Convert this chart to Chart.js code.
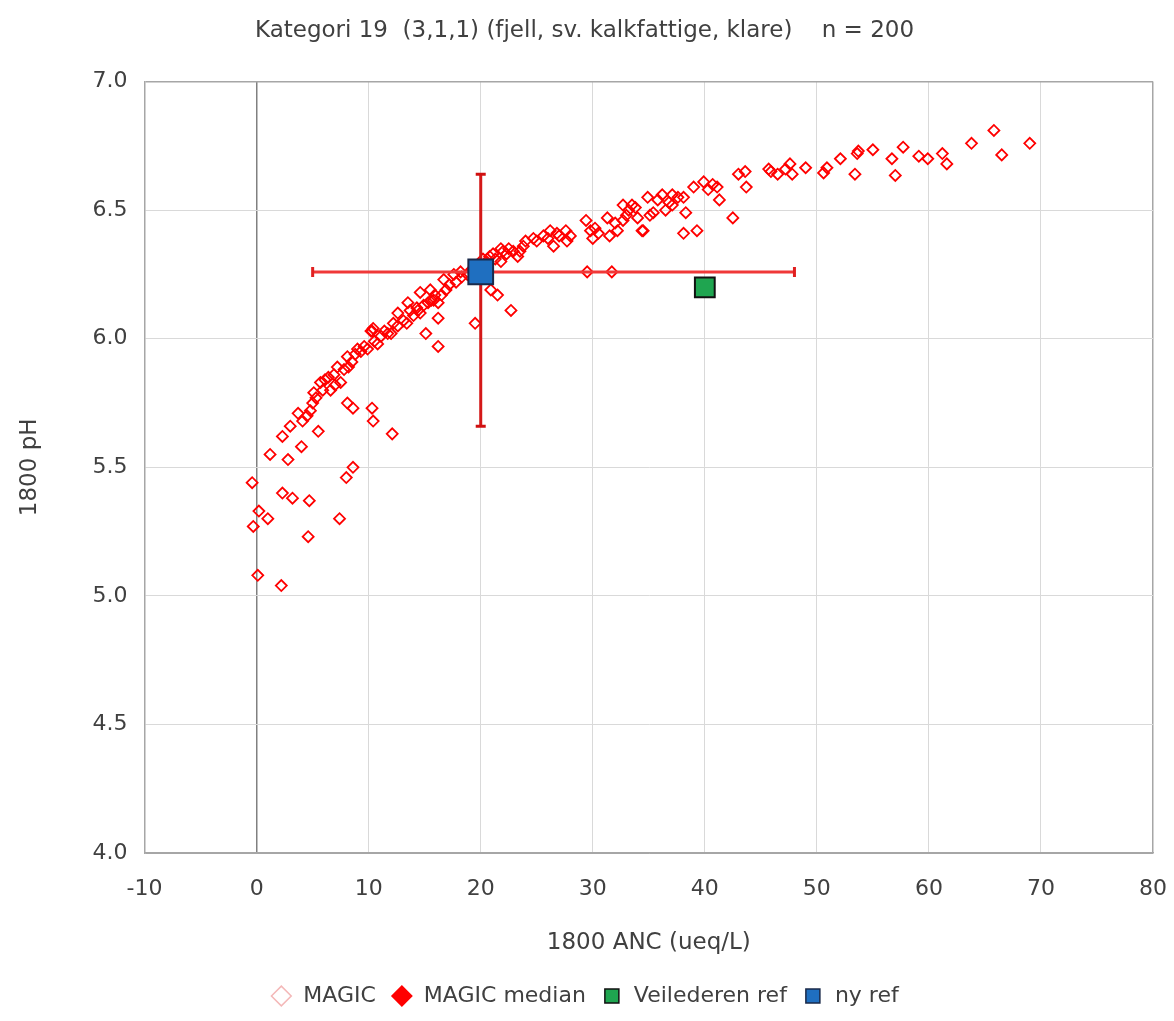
<!DOCTYPE html>
<html>
<head>
<meta charset="utf-8">
<script src="https://cdn.jsdelivr.net/npm/chart.js@4.4.1/dist/chart.umd.min.js"></script>
<style>
  body { margin: 0; background: #fff; }
  #wrap { width: 1174px; height: 1021px; }
</style>
</head>
<body>
<div id="wrap"><canvas id="chart" width="1174" height="1021"></canvas></div>
<script>
// MAGIC runs (1800 ANC vs 1800 pH)
const magicAnc = [
  -0.4, 0.2, 1.0, -0.3, 0.1, 2.2, 1.2, 2.8, 4.0, 2.3, 3.2, 4.7, 4.6, 7.4, 8.0, 8.6, 5.5, 8.1, 8.6, 10.3, 10.4, 12.1,
  2.3, 3.0, 3.7, 4.1, 4.8, 5.1, 5.7, 6.4, 7.2, 6.6, 7.5, 8.1, 8.2, 9.0, 10.2, 10.8, 11.7, 12.2, 13.1, 13.7, 14.6, 15.3, 16.2,
  4.5, 5.0, 5.3, 5.9, 6.1, 6.9, 7.0, 7.8, 8.5, 8.8, 9.3, 9.6, 9.9, 10.5, 11.1, 11.4, 12.0, 12.6, 13.4, 14.0, 14.3, 14.9,
  15.6, 15.9, 16.5, 16.9, 17.2, 17.8, 18.3, 18.8, 19.2,
  15.5, 16.7, 17.6, 18.2, 14.6, 13.5, 12.6, 10.4, 14.4, 15.8,
  15.1, 16.2, 16.2, 19.5, 20.9, 21.5, 22.7, 10.3,
  21.1, 21.8, 22.0, 22.9, 23.3, 23.8, 24.0, 24.7, 26.2, 26.8, 26.5, 27.6, 27.7, 29.4, 29.8, 30.0, 31.3, 31.5, 32.2, 32.7,
  33.5, 32.7, 34.4, 34.9, 35.4, 21.8, 20.5, 21.3, 22.5, 23.5, 25.0, 25.6, 26.0, 27.0, 28.0, 30.2, 30.5, 32.0, 33.0, 33.2,
  33.8, 34.0, 22.3, 20.8, 19.8, 20.2, 29.5, 31.7,
  34.5, 35.1, 35.8, 36.2, 36.5, 37.1, 37.1, 38.1, 38.3, 38.1, 39.3, 39.0, 39.9, 40.7, 41.1, 41.3, 42.5, 43.0, 43.6, 43.7,
  36.8, 37.6, 40.3,
  45.7, 46.5, 47.6, 47.8, 49.0, 50.6, 50.9, 52.1, 53.6, 53.4, 53.7, 55.0, 56.7, 57.7, 57.0, 59.1, 59.9, 61.2, 61.6, 63.8,
  65.8, 66.5, 69.0, 45.9, 47.2
];
const magicPh = [
  5.44, 5.33, 5.30, 5.27, 5.08, 5.04, 5.55, 5.53, 5.58, 5.40, 5.38, 5.37, 5.23, 5.30, 5.46, 5.50, 5.64, 5.75, 5.73, 5.73, 5.68, 5.63,
  5.62, 5.66, 5.71, 5.68, 5.72, 5.79, 5.83, 5.85, 5.89, 5.80, 5.83, 5.93, 5.89, 5.96, 6.03, 5.98, 6.02, 6.06, 6.07, 6.11, 6.10, 6.14, 6.14,
  5.70, 5.75, 5.77, 5.80, 5.84, 5.86, 5.82, 5.88, 5.91, 5.94, 5.95, 5.97, 5.96, 5.99, 6.01, 6.03, 6.02, 6.05, 6.06, 6.09, 6.12, 6.13,
  6.15, 6.17, 6.17, 6.19, 6.21, 6.22, 6.24, 6.25, 6.27,
  6.19, 6.23, 6.25, 6.26, 6.18, 6.14, 6.10, 6.04, 6.11, 6.15,
  6.02, 5.97, 6.08, 6.06, 6.19, 6.17, 6.11, 6.03,
  6.33, 6.30, 6.34, 6.34, 6.32, 6.36, 6.38, 6.39, 6.42, 6.41, 6.36, 6.42, 6.38, 6.46, 6.42, 6.39, 6.47, 6.40, 6.42, 6.52,
  6.52, 6.46, 6.42, 6.55, 6.49, 6.35, 6.30, 6.31, 6.35, 6.34, 6.38, 6.40, 6.39, 6.40, 6.40, 6.43, 6.41, 6.45, 6.48, 6.50,
  6.51, 6.47, 6.33, 6.32, 6.29, 6.31, 6.26, 6.26,
  6.42, 6.48, 6.54, 6.56, 6.50, 6.56, 6.52, 6.55, 6.49, 6.41, 6.42, 6.59, 6.61, 6.60, 6.59, 6.54, 6.47, 6.64, 6.65, 6.59,
  6.53, 6.55, 6.58,
  6.66, 6.64, 6.68, 6.64, 6.665, 6.645, 6.665, 6.70, 6.72, 6.64, 6.73, 6.735, 6.70, 6.745, 6.635, 6.71, 6.70, 6.72, 6.68, 6.76,
  6.81, 6.715, 6.76, 6.65, 6.66
];

// median with spread, and the two reference values
const medianAnc = 20;
const medianPh = 6.26;
const ancRange = [5, 48];
const phRange = [5.66, 6.64];
const veilederAnc = 40;
const veilederPh = 6.20;
const nyRefAnc = 20;
const nyRefPh = 6.26;

const xTicks = [-10, 0, 10, 20, 30, 40, 50, 60, 70, 80];
const yTicks = [4.0, 4.5, 5.0, 5.5, 6.0, 6.5, 7.0];

const textColor = '#404040';
const font = 'DejaVu Sans, Liberation Sans, sans-serif';

const magicPoints = magicAnc.map((x, i) => ({ x: x, y: magicPh[i] }));

const chart = new Chart(document.getElementById('chart'), {
    type: 'scatter',
    data: {
        datasets: [
            {
                label: 'MAGIC',
                data: magicPoints,
                pointStyle: 'rectRot',
                pointRadius: 5.5,
                borderColor: '#ff0000',
                backgroundColor: 'rgba(255,255,255,0)',
                borderWidth: 1.8,
                order: 5
            },
            {
                label: 'MAGIC median',
                data: [{ x: medianAnc, y: medianPh }],
                pointStyle: 'rectRot',
                pointRadius: 8,
                borderColor: '#ff0000',
                backgroundColor: '#ff0000',
                order: 3
            },
            {
                label: 'Veilederen ref',
                data: [{ x: veilederAnc, y: veilederPh }],
                pointStyle: 'rect',
                pointRadius: 14,
                borderColor: '#111',
                borderWidth: 2,
                backgroundColor: '#1fa550',
                order: 2
            },
            {
                label: 'ny ref',
                data: [{ x: nyRefAnc, y: nyRefPh }],
                pointStyle: 'rect',
                pointRadius: 17.5,
                borderColor: '#1a2a4a',
                borderWidth: 2,
                backgroundColor: '#1f6fc0',
                order: 1
            },
            // error bars of the median
            {
                label: 'errX',
                type: 'line',
                data: [{ x: ancRange[0], y: medianPh }, { x: ancRange[1], y: medianPh }],
                borderColor: '#f03838',
                borderWidth: 3,
                pointStyle: 'line',
                pointRotation: 90,
                pointRadius: 5,
                pointBorderWidth: 3,
                pointBorderColor: '#e02020',
                order: 4
            },
            {
                label: 'errY',
                type: 'line',
                data: [{ x: medianAnc, y: phRange[0] }, { x: medianAnc, y: phRange[1] }],
                borderColor: '#d41818',
                borderWidth: 3,
                pointStyle: 'line',
                pointRadius: 5,
                pointBorderWidth: 3,
                pointBorderColor: '#d01010',
                order: 4
            }
        ]
    },
    options: {
        responsive: false,
        animation: false,
        layout: { padding: { left: 16, right: 21, top: 0, bottom: 4 } },
        plugins: {
            title: {
                display: true,
                text: 'Kategori 19  (3,1,1) (fjell, sv. kalkfattige, klare)    n = 200',
                color: textColor,
                font: { family: font, size: 23, weight: 'normal' },
                padding: { top: 17, bottom: 37 }
            },
            legend: {
                position: 'bottom',
                labels: {
                    usePointStyle: true,
                    boxHeight: 14,
                    color: textColor,
                    font: { family: font, size: 22 },
                    padding: 15,
                    filter: item => item.text !== 'errX' && item.text !== 'errY',
                    sort: (a, b) => a.datasetIndex - b.datasetIndex,
                    generateLabels: function (chart) {
                        const items = Chart.defaults.plugins.legend.labels.generateLabels(chart);
                        items.forEach(item => {
                            if (item.text === 'MAGIC') {
                                item.strokeStyle = '#f4b8b8';
                            }
                            item.lineWidth = 1.5;
                        });
                        return items;
                    }
                }
            },
            tooltip: { enabled: false }
        },
        scales: {
            x: {
                type: 'linear',
                min: xTicks[0],
                max: xTicks[xTicks.length - 1],
                afterBuildTicks: axis => { axis.ticks = xTicks.map(v => ({ value: v })); },
                // let the last label hang into the right margin like the original
                afterFit: axis => { axis.paddingRight = 0; },
                ticks: {
                    color: textColor,
                    font: { family: font, size: 22 },
                    padding: 23
                },
                grid: {
                    drawTicks: false,
                    color: ctx => {
                        const v = ctx.tick ? ctx.tick.value : null;
                        if (v === 0) return '#808080';
                        if (v === -10 || v === 80) return '#a6a6a6';
                        return '#d9d9d9';
                    },
                    lineWidth: ctx => (ctx.tick && (ctx.tick.value === 0 || ctx.tick.value === 80)) ? 1.5 : 1
                },
                border: { color: '#a6a6a6', width: 1.5 },
                title: {
                    display: true,
                    text: '1800 ANC (ueq/L)',
                    color: textColor,
                    font: { family: font, size: 23 },
                    padding: { top: 4, bottom: 13 }
                }
            },
            y: {
                type: 'linear',
                min: yTicks[0],
                max: yTicks[yTicks.length - 1],
                afterBuildTicks: axis => { axis.ticks = yTicks.map(v => ({ value: v })); },
                ticks: {
                    color: textColor,
                    font: { family: font, size: 22 },
                    padding: 17,
                    callback: v => Number(v).toFixed(1)
                },
                grid: {
                    drawTicks: false,
                    color: ctx => {
                        const v = ctx.tick ? ctx.tick.value : null;
                        if (v === 7 || v === 4) return '#a6a6a6';
                        return '#d9d9d9';
                    },
                    lineWidth: ctx => (ctx.tick && ctx.tick.value === 7) ? 1.5 : 1
                },
                border: { color: '#a6a6a6', width: 1.5 },
                title: {
                    display: true,
                    text: '1800 pH',
                    color: textColor,
                    font: { family: font, size: 23 },
                    padding: { top: 0, bottom: 32 }
                }
            }
        }
    }
});
</script>
</body>
</html>
